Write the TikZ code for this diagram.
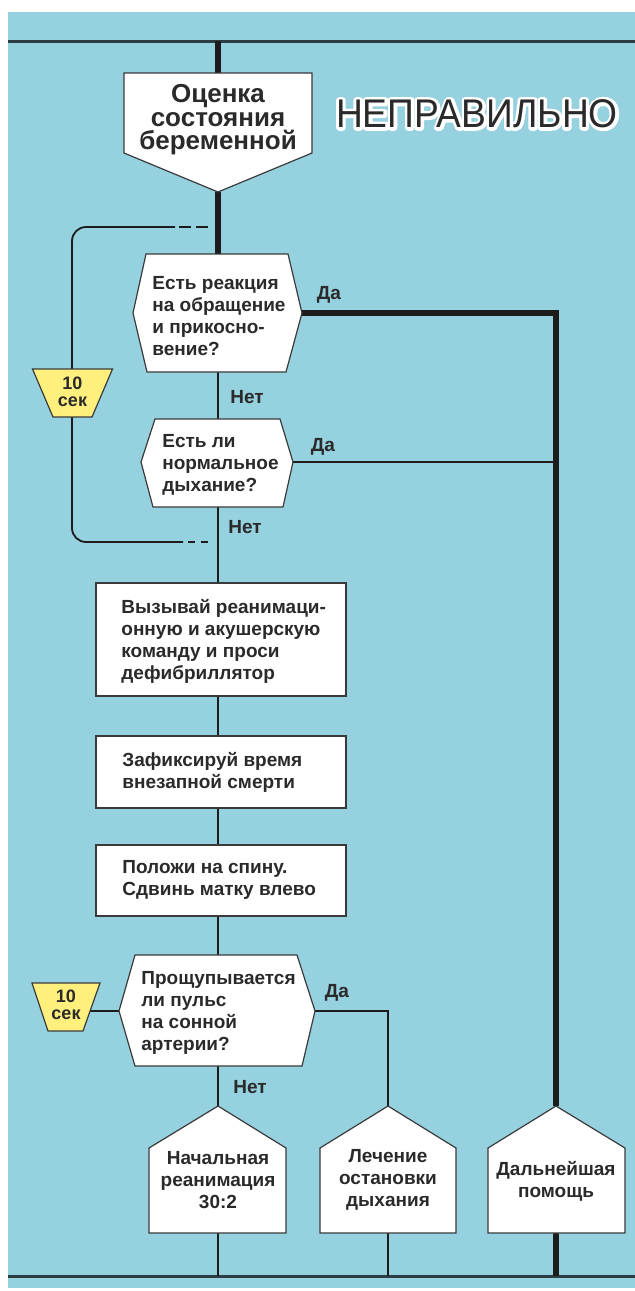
\documentclass[tikz,border=0pt]{standalone}
\usepackage{fontspec}
\setmainfont{Liberation Sans}
\newfontfamily\warnfont[FakeStretch=0.93]{Liberation Sans}
\usepackage{xcolor}
\usepackage{tikz}
\definecolor{CPRBlue}{HTML}{96D1DF}
\definecolor{CPRYellow}{HTML}{FFF07E}
\definecolor{CPRLine}{HTML}{1C1C1C}
\definecolor{CPRRule}{HTML}{2C3D44}
\definecolor{CPRText}{HTML}{2A2A2A}
\definecolor{CPREdge}{HTML}{3A3A3A}

\tikzset{
  rule/.style={draw=CPRRule, line width=1.5pt},
  shapefill/.style={fill=white, draw=CPREdge, line width=0.6pt},
  secfill/.style={fill=CPRYellow, draw=CPREdge, line width=0.6pt},
  stepbox/.style={shapefill, minimum width=125pt, inner sep=0pt},
  thinline/.style={draw=CPRLine, line width=1pt},
  thickline/.style={draw=CPRLine, line width=2.6pt},
  loopline/.style={draw=CPRLine, line width=0.9pt},
  txt/.style={inner sep=0pt, text=CPRText, font=\bfseries\fontsize{9.5}{11}\selectfont},
  lefttxt/.style={txt, anchor=west, align=left},
  midtxt/.style={txt, align=center},
  sectxt/.style={inner sep=0pt, text=CPRText, align=center, font=\bfseries\fontsize{9}{8.3}\selectfont},
  warn/.style={inner sep=0pt, font=\warnfont\fontsize{20}{20}\selectfont}
}

\begin{document}
\begin{tikzpicture}[x=0.5pt,y=-0.5pt]
\path[use as bounding box] (0,0) rectangle (635,1291);
\fill[CPRBlue] (8,12) rectangle (635,1288);
\draw[rule] (8,41) -- (635,41);
\draw[rule] (8,1276) -- (635,1276);
\coordinate (railtop) at (218,41);
\coordinate (railbot) at (8,1276);

% points on the shapes
\coordinate (t0n) at (218,73);
\coordinate (t0s) at (218,192);
\coordinate (q1n) at (218,254);
\coordinate (q1s) at (218,372);
\coordinate (q1e) at (302,313);
\coordinate (q2n) at (218,419);
\coordinate (q2s) at (218,507);
\coordinate (q2e) at (293,462);
\coordinate (q3n) at (218,955);
\coordinate (q3s) at (218,1066);
\coordinate (q3e) at (315,1011);
\coordinate (q3w) at (119,1011);
\coordinate (h1n) at (218,1106);
\coordinate (h1s) at (218,1233);
\coordinate (h2n) at (388,1106);
\coordinate (h2s) at (388,1233);
\coordinate (h3n) at (556,1106);
\coordinate (h3s) at (556,1233);
\coordinate (s1n) at (72,369);
\coordinate (s1s) at (72,417);
\coordinate (s2e) at (90,1011);

\node[stepbox, minimum height=56.5pt] (call) at (221,639.5) {};
\node[stepbox, minimum height=36pt] (fix) at (221,772) {};
\node[stepbox, minimum height=35.5pt] (tilt) at (221,880.5) {};

% connectors
\draw[thickline] (railtop) -- (t0n);
\draw[thickline] (t0s) -- (q1n);
\draw[thinline] (q1s) -- (q2n);
\draw[thinline] (q2s) -- (q2s |- call.north);
\draw[thinline] (call.south -| q2s) -- (fix.north -| q2s);
\draw[thinline] (fix.south -| q2s) -- (tilt.north -| q2s);
\draw[thinline] (tilt.south -| q2s) -- (q3n);
\draw[thinline] (q3s) -- (h1n);
\draw[thinline] (q3e) -| (h2n);
\draw[thickline] (q1e) -| (h3n);
\draw[thinline] (q2e) -- (q2e -| h3n);
\draw[thinline] (s2e) -- (q3w);
\draw[thinline] (h1s) -- (h1s |- railbot);
\draw[thinline] (h2s) -- (h2s |- railbot);
\draw[thickline] (h3s) -- (h3s |- railbot);

% 10 sec loop
\draw[loopline, rounded corners=7pt] (175,227) -- (72,227) -- (s1n);
\draw[loopline, dash pattern=on 6pt off 2.5pt] (179,227) -- (210,227);
\draw[loopline, rounded corners=7pt] (s1s) -- (72,542) -- (183,542);
\draw[loopline, dash pattern=on 3.5pt off 3pt] (188,542) -- (210,542);

% shapes
\draw[shapefill] (124,73) -- (312,73) -- (312,153) -- (t0s) -- (124,153) -- cycle;
\draw[shapefill] (146,254) -- (288,254) -- (q1e) -- (286,372) -- (147,372) -- (133,313) -- cycle;
\draw[shapefill] (155,419) -- (280,419) -- (q2e) -- (283,507) -- (153,507) -- (141,462) -- cycle;
\draw[shapefill] (135,955) -- (297,955) -- (q3e) -- (302,1066) -- (135,1066) -- (q3w) -- cycle;
\draw[shapefill] (h1n) -- (286,1148) -- (286,1233) -- (149,1233) -- (149,1148) -- cycle;
\draw[shapefill] (h2n) -- (456,1148) -- (456,1233) -- (320,1233) -- (320,1148) -- cycle;
\draw[shapefill] (h3n) -- (625,1148) -- (625,1233) -- (488,1233) -- (488,1148) -- cycle;
\draw[secfill] (32.5,369) -- (112.5,369) -- (92,417) -- (53,417) -- cycle;
\draw[secfill] (32,983) -- (100,983) -- (83,1031) -- (48,1031) -- cycle;

% texts
\node[midtxt, font=\bfseries\fontsize{13}{11.8}\selectfont] (title) at (218,120) {Оценка\\состояния\\беременной};
\node[warn, text=white] (wronghalo) at (477,114) {\special{pdf:literal direct 1 Tr 3 w 1 j}НЕПРАВИЛЬНО\special{pdf:literal direct 0 Tr}};
\node[warn, text=CPRText] (wrong) at (477,114) {НЕПРАВИЛЬНО};

\node[lefttxt] (q1) at (152,316) {Есть реакция\\на обращение\\и прикосно-\\вение?};
\node[lefttxt] (q2) at (162,465) {Есть ли\\нормальное\\дыхание?};
\node[lefttxt] (calltxt) at (121,641) {Вызывай реанимаци-\\онную и акушерскую\\команду и проси\\дефибриллятор};
\node[lefttxt] (fixtxt) at (122,772) {Зафиксируй время\\внезапной смерти};
\node[lefttxt] (tilttxt) at (122,880) {Положи на спину.\\Сдвинь матку влево};
\node[lefttxt] (q3) at (141,1013) {Прощупывается\\ли пульс\\на сонной\\артерии?};
\node[midtxt] (cpr) at (218,1180) {Начальная\\реанимация\\30:2};
\node[midtxt] (breath) at (388,1180) {Лечение\\остановки\\дыхания};
\node[midtxt] (further) at (556,1181) {Дальнейшая\\помощь};
\node[sectxt] (sec1) at (72.5,392) {10\\сек};
\node[sectxt] (sec2) at (66,1005) {10\\сек};

\node[txt] (yes1) at (329,295) {Да};
\node[txt] (yes2) at (323,447) {Да};
\node[txt] (yes3) at (337,993) {Да};
\node[txt] (no1) at (247,397) {Нет};
\node[txt] (no2) at (245,527) {Нет};
\node[txt] (no3) at (250,1087) {Нет};
\end{tikzpicture}
\end{document}
